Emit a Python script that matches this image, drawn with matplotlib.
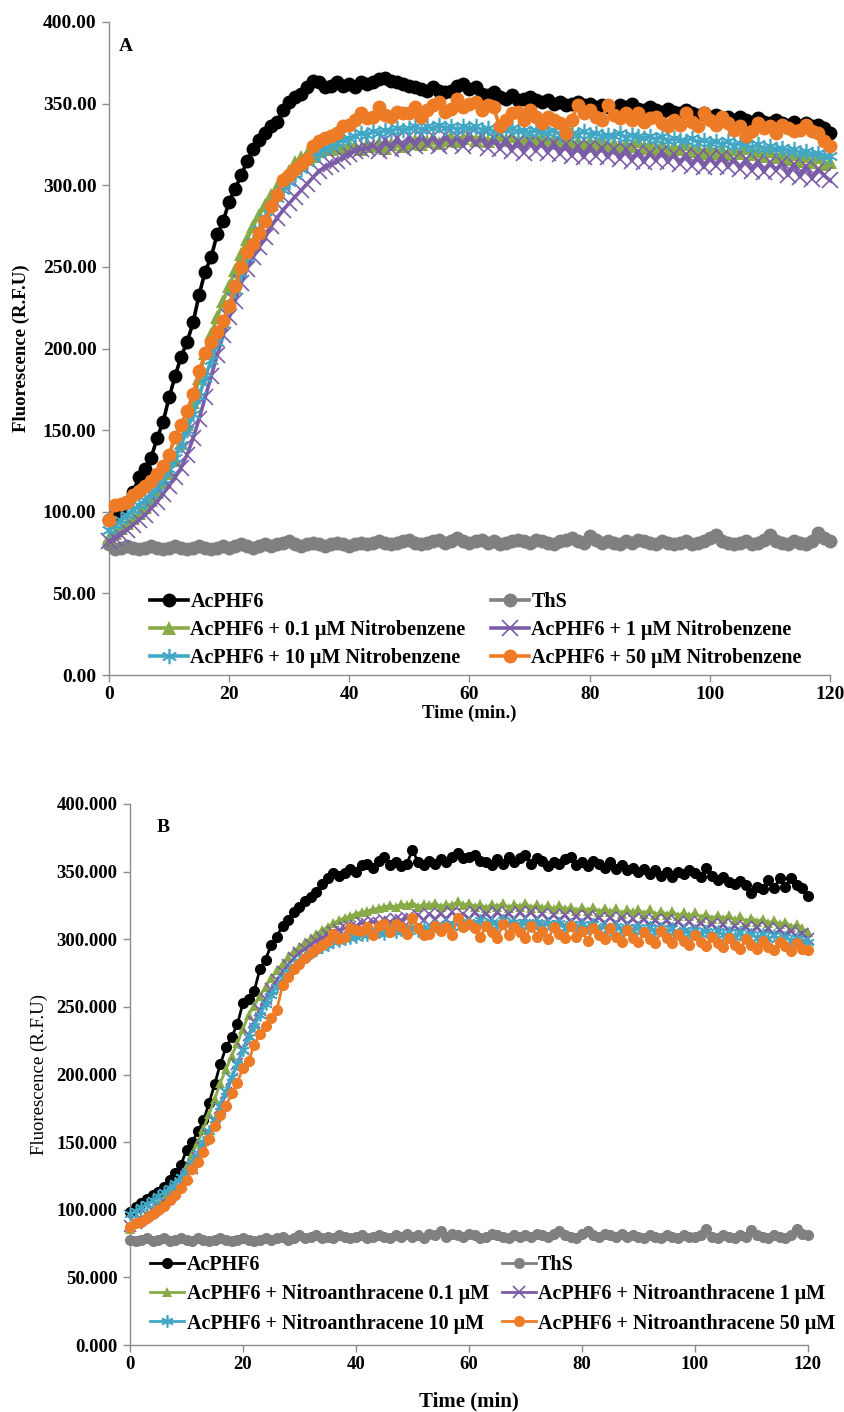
import numpy as np
import matplotlib
matplotlib.use("Agg")
import matplotlib.pyplot as plt

# ---------------- data ----------------
time_min = list(range(0, 121))

# Panel A (Nitrobenzene)
A_acphf6 = [95, 98, 102, 106, 112, 121, 126, 133, 145, 155,
            170, 183, 195, 204, 216, 233, 247, 256, 270, 278,
            290, 298, 306, 315, 322, 328, 332, 336, 339, 346,
            351, 354, 356, 360, 364, 363, 360, 361, 363, 361,
            362, 360, 363, 362, 363, 365, 366, 364, 363, 362,
            361, 360, 359, 358, 360, 358, 357, 358, 361, 362,
            359, 360, 356, 355, 357, 354, 353, 355, 352, 353,
            354, 352, 351, 352, 350, 351, 349, 350, 351, 349,
            350, 348, 349, 348, 347, 349, 348, 350, 347, 346,
            348, 346, 345, 347, 345, 344, 346, 344, 343, 344,
            342, 343, 341, 342, 340, 342, 340, 339, 341, 339,
            338, 340, 338, 337, 339, 336, 338, 336, 337, 335,
            332]
A_ths = [80, 77, 78, 79, 78, 77, 78, 79, 78, 77,
         78, 79, 78, 77, 78, 79, 78, 77, 78, 79,
         78, 79, 80, 79, 78, 79, 80, 79, 80, 81,
         82, 80, 79, 80, 81, 80, 79, 80, 81, 80,
         79, 80, 81, 80, 81, 82, 81, 80, 81, 82,
         83, 81, 80, 81, 82, 83, 81, 82, 84, 82,
         81, 82, 83, 81, 82, 80, 81, 82, 83, 82,
         81, 83, 82, 81, 80, 82, 83, 84, 82, 81,
         85, 83, 81, 82, 81, 80, 82, 81, 83, 82,
         81, 80, 82, 81, 80, 81, 82, 80, 81, 82,
         84, 86, 82, 81, 80, 81, 82, 80, 81, 83,
         86, 82, 81, 80, 82, 81, 80, 82, 87, 84,
         82]
A_nb01 = [84, 87, 90, 93, 96, 99, 103, 107, 112, 118,
          124, 132, 142, 154, 167, 182, 197, 209, 219, 229,
          238, 248, 258, 267, 275, 282, 288, 294, 299, 304,
          309, 314, 317, 319, 318, 321, 323, 322, 324, 323,
          325, 324, 322, 325, 324, 326, 323, 325, 327, 324,
          326, 328, 325, 327, 329, 326, 328, 330, 327, 329,
          331, 328, 330, 327, 329, 331, 328, 330, 327, 329,
          331, 328, 330, 327, 329, 326, 328, 325, 327, 324,
          327, 325, 328, 324, 326, 323, 326, 324, 327, 323,
          325, 322, 325, 321, 324, 322, 325, 321, 323, 320,
          323, 320, 322, 319, 322, 320, 323, 319, 321, 318,
          321, 317, 320, 316, 319, 315, 318, 314, 317, 313,
          314]
A_nb1 = [82, 84, 86, 89, 92, 95, 98, 102, 106, 111,
         116, 121, 127, 135, 145, 157, 170, 183, 196, 208,
         219, 229, 240, 249, 256, 262, 268, 275, 280, 285,
         289, 293, 297, 301, 305, 309, 311, 313, 315, 317,
         319, 321, 322, 323, 324, 321, 328, 322, 329, 323,
         330, 324, 331, 325, 330, 324, 331, 325, 330, 324,
         331, 325, 330, 323, 329, 322, 328, 321, 327, 320,
         327, 321, 326, 320, 326, 319, 325, 318, 324, 317,
         324, 318, 323, 317, 322, 316, 322, 315, 321, 314,
         320, 315, 321, 314, 319, 313, 319, 312, 318, 311,
         317, 312, 318, 311, 316, 310, 316, 309, 315, 308,
         314, 309, 314, 306, 313, 305, 312, 304, 310, 306,
         303]
A_nb10 = [89, 92, 95, 98, 101, 104, 107, 111, 115, 120,
          126, 133, 141, 150, 160, 171, 182, 193, 204, 215,
          226, 236, 246, 256, 265, 273, 280, 287, 292, 297,
          302, 306, 310, 314, 317, 320, 322, 324, 326, 328,
          329, 330, 332, 331, 333, 332, 334, 333, 335, 334,
          335, 336, 334, 336, 335, 337, 335, 336, 334, 336,
          335, 336, 334, 335, 333, 335, 334, 335, 333, 334,
          332, 334, 333, 332, 334, 331, 333, 332, 331, 333,
          331, 332, 330, 331, 330, 332, 329, 331, 330, 329,
          330, 328, 330, 327, 329, 328, 327, 329, 326, 328,
          326, 327, 325, 327, 324, 326, 325, 323, 325, 322,
          324, 322, 323, 321, 322, 320, 321, 319, 320, 318,
          318]
A_nb50 = [95, 104, 105, 106, 110, 113, 116, 119, 123, 128,
          135, 146, 153, 162, 172, 186, 197, 204, 210, 217,
          226, 238, 250, 259, 264, 271, 278, 287, 294, 303,
          306, 310, 313, 316, 324, 327, 329, 330, 332, 336,
          337, 340, 344, 341, 342, 348, 343, 342, 345, 344,
          344, 348, 342, 346, 349, 351, 345, 347, 353, 348,
          350, 351, 346, 349, 348, 336, 340, 344, 345, 340,
          346, 342, 338, 342, 340, 338, 332, 340, 349, 344,
          346, 342, 340, 349, 343, 341, 344, 340, 344, 339,
          341, 342, 338, 336, 340, 337, 344, 339, 336, 344,
          340, 337, 342, 338, 334, 336, 330, 333, 338, 335,
          336, 332, 337, 335, 333, 334, 337, 333, 332, 327,
          324]

# Panel B (Nitroanthracene)
B_acphf6 = [98, 102, 105, 108, 111, 113, 117, 122, 127, 133,
            144, 150, 158, 166, 179, 193, 208, 220, 228, 237,
            253, 256, 262, 278, 285, 296, 302, 310, 314, 320,
            324, 328, 331, 335, 341, 345, 349, 347, 349, 352,
            350, 355, 356, 353, 358, 361, 355, 357, 354, 356,
            366, 357, 355, 358, 356, 359, 357, 361, 364, 360,
            361, 362, 358, 357, 355, 359, 356, 361, 357, 360,
            362, 356, 360, 358, 354, 357, 356, 359, 361, 355,
            357, 354, 358, 356, 353, 357, 352, 355, 351, 353,
            350, 352, 348, 351, 347, 350, 346, 350, 348, 351,
            349, 346, 353, 347, 344, 346, 342, 341, 343, 340,
            334, 339, 337, 344, 338, 345, 339, 345, 340, 338,
            332]
B_ths = [78, 77, 78, 79, 77, 78, 79, 77, 78, 79,
         78, 77, 79, 78, 77, 78, 79, 78, 77, 78,
         79, 78, 77, 78, 79, 78, 79, 80, 78, 79,
         81, 79, 80, 81, 79, 80, 79, 81, 80, 79,
         80, 81, 79, 80, 81, 80, 79, 81, 80, 82,
         80, 81, 79, 82, 81, 84, 80, 82, 81, 80,
         82, 81, 79, 80, 82, 81, 80, 79, 81, 80,
         81, 80, 82, 81, 80, 82, 84, 81, 80, 79,
         82, 84, 81, 80, 82, 81, 80, 82, 80, 81,
         80, 79, 81, 80, 79, 81, 80, 79, 81, 80,
         80, 81, 86, 80, 79, 81, 80, 79, 81, 80,
         85, 81, 80, 79, 81, 80, 79, 81, 86, 82,
         81]
B_na01 = [86, 90, 94, 97, 100, 104, 108, 113, 118, 124,
          132, 141, 150, 160, 171, 182, 194, 204, 214, 223,
          234, 244, 251, 258, 265, 271, 277, 282, 287, 291,
          294, 298, 301, 304, 307, 309, 312, 314, 316, 317,
          319, 320, 321, 322, 323, 324, 325, 324, 326, 325,
          327, 324, 326, 325, 327, 324, 326, 325, 328, 325,
          327, 324, 326, 323, 326, 324, 327, 323, 326, 324,
          327, 323, 326, 323, 325, 322, 325, 322, 324, 321,
          324, 321, 324, 320, 323, 320, 323, 319, 322, 320,
          322, 319, 322, 318, 321, 318, 321, 317, 320, 317,
          320, 316, 319, 315, 318, 315, 318, 314, 317, 313,
          316, 313, 315, 312, 314, 311, 313, 309, 311, 308,
          305]
B_na1 = [88, 90, 93, 96, 99, 102, 106, 110, 114, 119,
         125, 131, 138, 146, 155, 165, 175, 186, 197, 208,
         219, 229, 239, 248, 256, 263, 270, 276, 281, 286,
         290, 293, 296, 299, 301, 303, 305, 307, 308, 309,
         310, 312, 311, 313, 312, 314, 313, 315, 314, 316,
         315, 318, 314, 319, 315, 319, 315, 320, 316, 319,
         315, 320, 316, 319, 315, 320, 316, 319, 315, 320,
         316, 320, 315, 319, 314, 318, 314, 318, 313, 317,
         313, 317, 313, 316, 312, 316, 312, 316, 311, 315,
         311, 315, 310, 314, 310, 314, 309, 313, 309, 313,
         308, 312, 308, 311, 307, 311, 306, 310, 306, 309,
         305, 309, 304, 308, 303, 307, 303, 306, 302, 304,
         300]
B_na10 = [97, 99, 102, 104, 107, 110, 113, 116, 120, 124,
          129, 135, 142, 150, 158, 167, 177, 188, 198, 208,
          218, 228, 236, 244, 252, 259, 265, 271, 276, 280,
          284, 287, 290, 292, 294, 296, 298, 299, 300, 301,
          302, 303, 303, 304, 305, 304, 306, 305, 307, 306,
          308, 306, 309, 307, 310, 308, 311, 309, 312, 310,
          313, 310, 314, 311, 313, 310, 314, 311, 313, 310,
          313, 310, 313, 309, 312, 309, 312, 308, 311, 308,
          311, 308, 311, 307, 310, 307, 310, 306, 309, 306,
          309, 306, 309, 305, 308, 305, 308, 304, 307, 304,
          307, 304, 306, 303, 306, 303, 305, 302, 305, 302,
          304, 301, 304, 300, 303, 300, 302, 299, 301, 299,
          298]
B_na50 = [87, 90, 91, 94, 97, 100, 103, 107, 111, 116,
          122, 130, 135, 143, 152, 162, 170, 177, 186, 194,
          205, 210, 222, 230, 236, 242, 248, 266, 272, 278,
          282, 286, 290, 293, 296, 299, 304, 300, 302, 308,
          307, 306, 309, 303, 310, 311, 305, 311, 309, 304,
          316, 308, 303, 304, 310, 306, 309, 303, 316, 309,
          311, 308, 302, 310, 305, 301, 311, 303, 309, 305,
          301, 310, 302, 306, 300, 309, 304, 301, 310, 302,
          306, 299, 308, 303, 300, 308, 302, 298, 307, 301,
          298, 305, 300, 297, 306, 301, 297, 304, 299, 296,
          303, 298, 295, 302, 297, 294, 301, 296, 293, 300,
          296, 293, 299, 294, 292, 298, 295, 291, 297, 293,
          292]

A_labels = ["AcPHF6", "ThS",
            "AcPHF6 + 0.1 \u03bcM Nitrobenzene", "AcPHF6 + 1 \u03bcM Nitrobenzene",
            "AcPHF6 + 10 \u03bcM Nitrobenzene", "AcPHF6 + 50 \u03bcM Nitrobenzene"]
B_labels = ["AcPHF6", "ThS",
            "AcPHF6 + Nitroanthracene 0.1 \u03bcM", "AcPHF6 + Nitroanthracene 1 \u03bcM",
            "AcPHF6 + Nitroanthracene 10 \u03bcM", "AcPHF6 + Nitroanthracene 50 \u03bcM"]
y_ticks = [0, 50, 100, 150, 200, 250, 300, 350, 400]
x_ticks = [0, 20, 40, 60, 80, 100, 120]

# ---------------- styles ----------------
colors = ["#000000", "#808080", "#88AA47", "#7B5CA6", "#41A7C4", "#EE7B25"]
markers = ["o", "o", "^", "x", (6, 2, 0), "o"]
plt.rcParams['font.family'] = ['Liberation Serif', 'DejaVu Serif']
plt.rcParams['font.weight'] = 'bold'

fig = plt.figure(figsize=(8.45, 14.12), dpi=100)
W, H = 845.0, 1412.0


def make_panel(rect, series, labels, fmt, letter, letter_xy, xlabel, xlabel_size,
               xlabelpad, ylabel_weight, ylabelpad, msz, lw, leg_fs, leg_anchor,
               leg_colsp, leg_lsp, leg_hl, tick_fs):
    ax = fig.add_axes(rect)
    handles = []
    for i, (ys, lab) in enumerate(zip(series, labels)):
        m = markers[i]
        if m == "x" or isinstance(m, tuple):
            ms, mew = msz * 1.1, 1.2
        elif m == "^":
            ms, mew = msz * 0.95, 0
        else:
            ms, mew = msz, 0
        ln, = ax.plot(time_min, ys, color=colors[i], lw=lw, marker=m,
                      markersize=ms, markeredgewidth=mew, markerfacecolor=colors[i],
                      markeredgecolor=colors[i], label=lab, zorder=2 + i,
                      clip_on=False)
        handles.append(ln)
    ax.set_xlim(0, 120)
    ax.set_ylim(0, 400)
    ax.set_yticks(y_ticks)
    ax.set_yticklabels([fmt.format(v) for v in y_ticks])
    ax.set_xticks(x_ticks)
    for s in ("top", "right"):
        ax.spines[s].set_visible(False)
    for s in ("left", "bottom"):
        ax.spines[s].set_color("#8C8C8C")
        ax.spines[s].set_linewidth(1.0)
    ax.tick_params(axis="both", direction="out", length=5, width=1,
                   color="#8C8C8C", labelsize=tick_fs)
    ax.tick_params(axis="y", pad=4)
    ax.tick_params(axis="x", pad=3)
    ax.set_ylabel("Fluorescence (R.F.U)", fontsize=13.5, fontweight=ylabel_weight,
                  labelpad=ylabelpad)
    ax.set_xlabel(xlabel, fontsize=xlabel_size, fontweight="bold",
                  labelpad=xlabelpad)
    ax.text(letter_xy[0], letter_xy[1], letter, transform=ax.transAxes,
            fontsize=14, fontweight="bold", va="center", ha="left")
    order = [0, 2, 4, 1, 3, 5]
    ax.legend([handles[k] for k in order], [labels[k] for k in order],
              ncol=2, loc="upper left", bbox_to_anchor=leg_anchor,
              frameon=False, fontsize=leg_fs, handlelength=leg_hl,
              handletextpad=0.1, columnspacing=leg_colsp,
              labelspacing=leg_lsp, borderaxespad=0, numpoints=1)
    return ax


def rect_from_px(x0, x1, ytop, ybot):
    return [x0 / W, 1 - ybot / H, (x1 - x0) / W, (ybot - ytop) / H]


make_panel(rect_from_px(109, 830, 22, 675),
           [A_acphf6, A_ths, A_nb01, A_nb1, A_nb10, A_nb50], A_labels,
           "{:.2f}", "A", (0.013, 0.962), "Time (min.)", 13.5, 1, "bold", 9,
           10.0, 2.6, 14.5, (0.046, 0.139), 1.25, 0.4, 1.9, 14)

make_panel(rect_from_px(130, 808, 804, 1345),
           [B_acphf6, B_ths, B_na01, B_na1, B_na10, B_na50], B_labels,
           "{:.3f}", "B", (0.04, 0.957), "Time (min)", 15, 13, "normal", 6,
           8.0, 2.0, 14.5, (0.018, 0.182), 0.65, 0.47, 1.7, 13.5)

fig.savefig("out.png", dpi=100)
